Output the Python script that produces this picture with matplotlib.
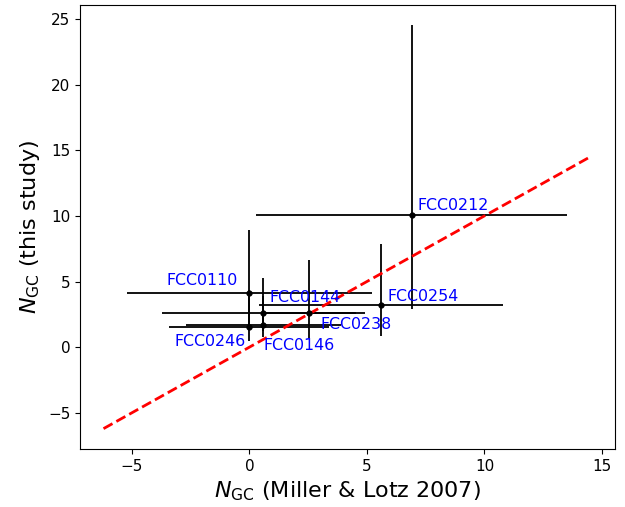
import numpy as np
import matplotlib
matplotlib.use("Agg")
import matplotlib.pyplot as plt

# GC counts: Miller & Lotz 2007 vs this study
names = ["FCC0110", "FCC0144", "FCC0238", "FCC0246", "FCC0146", "FCC0254", "FCC0212"]
n_ml = np.array([0.0, 0.6, 2.55, 0.0, 0.6, 5.6, 6.9])
n_ml_err = np.array([5.2, 4.3, 2.0, 3.4, 3.3, 5.2, 6.6])
n_this = np.array([4.1, 2.6, 2.6, 1.55, 1.7, 3.2, 10.1])
n_this_lo = np.array([2.4, 1.4, 1.9, 1.1, 0.95, 2.36, 7.2])
n_this_hi = np.array([4.85, 2.7, 4.05, 2.8, 2.2, 4.65, 14.4])

one_to_one = np.array([-6.2, 14.4])

# label offsets (points) relative to each point
label_dx = [-34, 30, 34, -28, 26, 30, 30]
label_dy = [9, 11, -8.5, -10.5, -15, 6, 6.5]

fig = plt.figure(figsize=(6.25, 5.07), dpi=100)
ax = fig.add_axes([0.128, 0.1144, 0.856, 0.8756])

ax.errorbar(n_ml, n_this, xerr=n_ml_err, yerr=[n_this_lo, n_this_hi],
            fmt="ko", ms=3.5, ecolor="k", elinewidth=1.3, capsize=0)
ax.plot(one_to_one, one_to_one, "r--", lw=2)

for name, x, y, dx, dy in zip(names, n_ml, n_this, label_dx, label_dy):
    ax.annotate(name, (x, y), xytext=(dx, dy), textcoords="offset points",
                ha="center", va="center", color="blue", fontsize=11.4)

ax.set_xlim(-7.2, 15.55)
ax.set_ylim(-7.75, 26.05)
ax.set_xticks([-5, 0, 5, 10, 15])
ax.set_yticks([-5, 0, 5, 10, 15, 20, 25])
ax.tick_params(labelsize=11)
ax.set_xlabel(r"$N_{\rm GC}$ (Miller & Lotz 2007)", fontsize=16)
ax.set_ylabel(r"$N_{\rm GC}$ (this study)", fontsize=16)

fig.savefig("out.png", dpi=100)
